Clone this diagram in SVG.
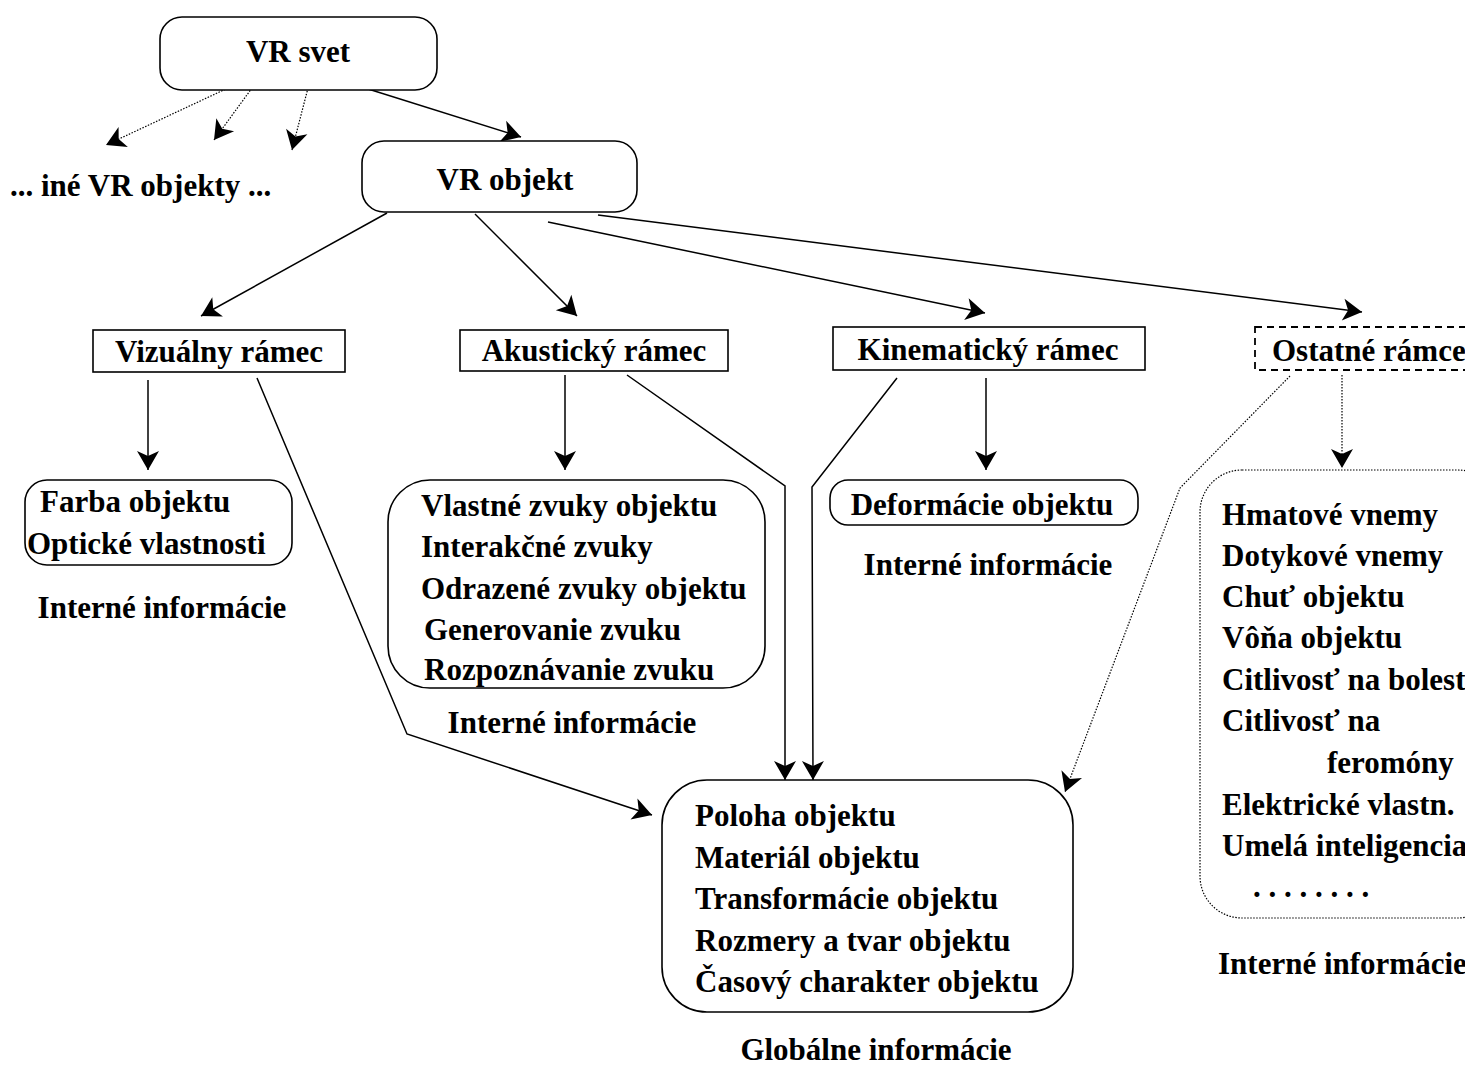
<svg xmlns="http://www.w3.org/2000/svg" width="1465" height="1066" viewBox="0 0 1465 1066">
<style>
text{font-family:"Liberation Serif","Times New Roman",serif;font-weight:bold;font-size:31px;fill:#000}
.c{text-anchor:middle}
.box{fill:#fff;stroke:#000;stroke-width:1.6}
.dash{fill:#fff;stroke:#000;stroke-width:1.8;stroke-dasharray:7 5}
.dot{fill:none;stroke:#000;stroke-width:1.2;stroke-dasharray:1.5 1.5}
.ln{fill:none;stroke:#000;stroke-width:1.5}
</style>
<defs>
<marker id="ah" markerUnits="userSpaceOnUse" viewBox="-20 -12 22 24" refX="0" refY="0" markerWidth="22" markerHeight="24" orient="auto">
<path d="M-19,-11 L0,0 L-19,11 L-14,0 Z" fill="#000"/>
</marker>
</defs>
<rect width="1465" height="1066" fill="#fff"/>
<g id="connectors">
<path class="dot" d="M228,88 L106,145" marker-end="url(#ah)"/>
<path class="dot" d="M252,88 L214,140" marker-end="url(#ah)"/>
<path class="dot" d="M308,88 L292,150" marker-end="url(#ah)"/>
<path class="ln" d="M365,88 L521,137" marker-end="url(#ah)"/>
<path class="ln" d="M387,213 L201,316" marker-end="url(#ah)"/>
<path class="ln" d="M475,214 L577,316" marker-end="url(#ah)"/>
<path class="ln" d="M548,222 L985,313" marker-end="url(#ah)"/>
<path class="ln" d="M598,215 L1362,312" marker-end="url(#ah)"/>
<path class="ln" d="M148,380 L148,470" marker-end="url(#ah)"/>
<path class="ln" d="M565,375 L565,470" marker-end="url(#ah)"/>
<path class="ln" d="M986,378 L986,470" marker-end="url(#ah)"/>
<path class="dot" d="M1342,375 L1342,468" marker-end="url(#ah)"/>
<path class="ln" d="M257,378 L407,734 L652,815" marker-end="url(#ah)"/>
<path class="ln" d="M627,375 L785,486 L785,780" marker-end="url(#ah)"/>
<path class="ln" d="M897,378 L812,487 L813,780" marker-end="url(#ah)"/>
<path class="dot" d="M1290,376 L1180,488 L1065,792" marker-end="url(#ah)"/>
</g>
<g id="vr-svet">
<rect class="box" x="160" y="17" width="277" height="73" rx="22"/>
<text class="c" x="298" y="62">VR svet</text>
</g>
<g id="ine-objekty">
<text x="10" y="196">... iné VR objekty ...</text>
</g>
<g id="vr-objekt">
<rect class="box" x="362" y="141" width="275" height="71" rx="22"/>
<text class="c" x="505" y="190">VR objekt</text>
</g>
<g id="vizualny">
<rect class="box" x="93" y="330" width="252" height="42"/>
<text class="c" x="219" y="362">Vizuálny rámec</text>
</g>
<g id="akusticky">
<rect class="box" x="460" y="330" width="268" height="41"/>
<text class="c" x="594" y="361">Akustický rámec</text>
</g>
<g id="kinematicky">
<rect class="box" x="833" y="327" width="312" height="43"/>
<text class="c" x="988" y="360">Kinematický rámec</text>
</g>
<g id="ostatne">
<rect class="dash" x="1255" y="327" width="230" height="43"/>
<text x="1272" y="361">Ostatné rámce</text>
</g>
<g id="vizualne-info">
<rect class="box" x="25" y="480" width="267" height="85" rx="22"/>
<text x="40" y="512">Farba objektu</text>
<text x="27" y="554">Optické vlastnosti</text>
<text class="c" x="162" y="618">Interné informácie</text>
</g>
<g id="akusticke-info">
<rect class="box" x="388" y="480" width="377" height="208" rx="42"/>
<text x="421" y="516">Vlastné zvuky objektu</text>
<text x="421" y="557">Interakčné zvuky</text>
<text x="421" y="599">Odrazené zvuky objektu</text>
<text x="424" y="640">Generovanie zvuku</text>
<text x="424" y="680">Rozpoznávanie zvuku</text>
<text class="c" x="572" y="733">Interné informácie</text>
</g>
<g id="kinematicke-info">
<rect class="box" x="830" y="480" width="308" height="45" rx="18"/>
<text class="c" x="982" y="515">Deformácie objektu</text>
<text class="c" x="988" y="575">Interné informácie</text>
</g>
<g id="ostatne-info">
<rect class="dot" x="1200" y="470" width="300" height="448" rx="42"/>
<text x="1222" y="525">Hmatové vnemy</text>
<text x="1222" y="566">Dotykové vnemy</text>
<text x="1222" y="607">Chuť objektu</text>
<text x="1222" y="648">Vôňa objektu</text>
<text x="1222" y="690">Citlivosť na bolesť</text>
<text x="1222" y="731">Citlivosť na</text>
<text x="1327" y="773">feromóny</text>
<text x="1222" y="815">Elektrické vlastn.</text>
<text x="1222" y="856">Umelá inteligencia</text>
<text x="1253" y="897">. . . . . . . .</text>
<text x="1218" y="974">Interné informácie</text>
</g>
<g id="globalne-info">
<rect class="box" x="662" y="780" width="411" height="232" rx="45"/>
<text x="695" y="826">Poloha objektu</text>
<text x="695" y="868">Materiál objektu</text>
<text x="695" y="909">Transformácie objektu</text>
<text x="695" y="951">Rozmery a tvar objektu</text>
<text x="695" y="992">Časový charakter objektu</text>
<text class="c" x="876" y="1060">Globálne informácie</text>
</g>
</svg>
